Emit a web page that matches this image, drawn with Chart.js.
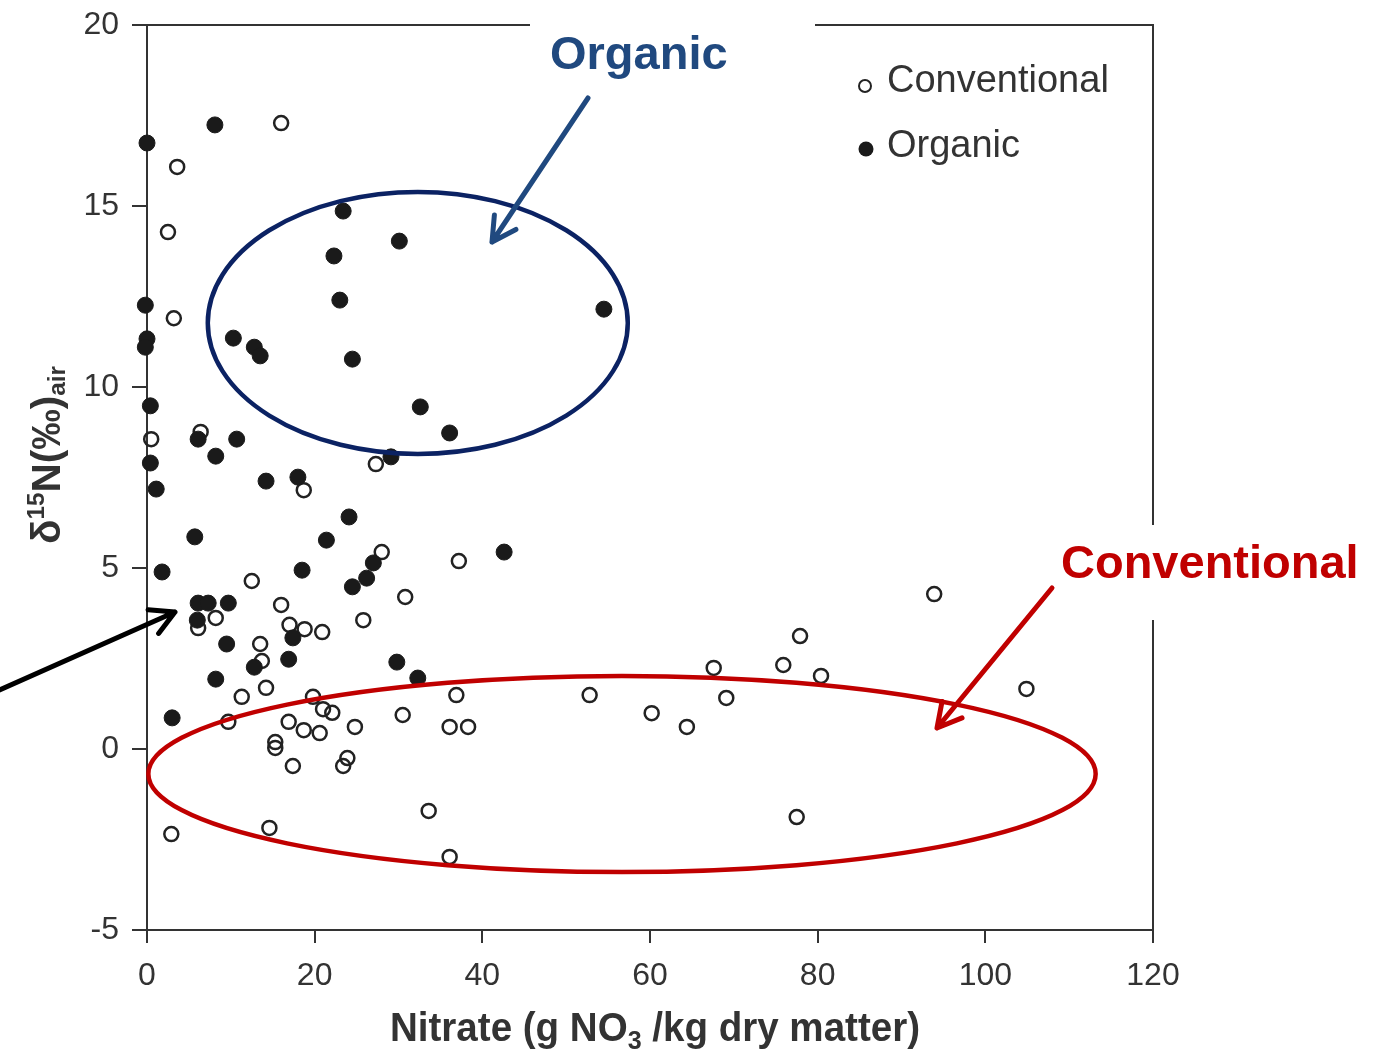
<!DOCTYPE html>
<html>
<head>
<meta charset="utf-8">
<script src="https://cdn.jsdelivr.net/npm/chart.js@4.4.1/dist/chart.umd.min.js"></script>
<style>
  html, body { margin: 0; padding: 0; background: #fff; }
  #wrap { width: 1379px; height: 1051px; }
</style>
</head>
<body>
<div id="wrap"><canvas id="chart" width="1379" height="1051"></canvas></div>
<script>
// Data (nitrate g/kg vs delta15N per mille)
const conventionalX = [16.0, 3.6, 2.5, 3.2, 0.5, 6.4, 27.3, 18.7, 28.0, 37.2, 12.5, 30.8, 16.0, 8.2, 6.1,
  25.8, 17.0, 18.8, 20.9, 13.5, 13.7, 14.2, 11.3, 19.8, 21.0, 22.1, 9.7, 16.9, 30.5, 18.7, 20.6, 24.8,
  15.3, 15.3, 17.4, 23.9, 23.4, 14.6, 2.9, 36.9, 36.1, 38.3, 33.6, 36.1, 52.8, 60.2, 64.4, 67.6, 69.1,
  75.9, 77.9, 80.4, 77.5, 93.9, 104.9];
const conventionalY = [17.29, 16.08, 14.28, 11.9, 8.56, 8.76, 7.87, 7.15, 5.44, 5.19, 4.64, 4.2, 3.98, 3.62, 3.34,
  3.56, 3.43, 3.31, 3.23, 2.9, 2.43, 1.69, 1.44, 1.44, 1.1, 1.0, 0.75, 0.75, 0.94, 0.52, 0.44, 0.61,
  0.19, 0.03, -0.47, -0.25, -0.47, -2.18, -2.35, 1.49, 0.61, 0.61, -1.71, -2.98, 1.49, 0.99, 0.61, 2.24, 1.41,
  2.32, 3.12, 2.02, -1.88, 4.28, 1.66];

const organicX = [0.0, 8.1, 23.4, 30.1, 22.3, 23.0, 54.5, -0.2, 0.0, -0.2, 10.3, 12.8, 13.5, 24.5, 32.6, 36.1,
  0.4, 0.4, 1.1, 6.1, 10.7, 8.2, 14.2, 18.0, 24.1, 21.4, 5.7, 1.8, 18.5, 27.0, 26.2, 24.5, 42.6, 29.1,
  6.1, 7.3, 9.7, 6.0, 17.4, 9.5, 16.9, 12.8, 29.8, 8.2, 3.0, 32.3];
const organicY = [16.74, 17.24, 14.86, 14.03, 13.62, 12.40, 12.15, 12.26, 11.33, 11.1, 11.35, 11.1, 10.86, 10.77, 9.45, 8.73,
  9.48, 7.9, 7.18, 8.56, 8.56, 8.09, 7.4, 7.51, 6.41, 5.77, 5.86, 4.89, 4.94, 5.14, 4.72, 4.48, 5.44, 8.07,
  4.03, 4.03, 4.03, 3.56, 3.07, 2.9, 2.48, 2.26, 2.4, 1.93, 0.86, 1.96];

const xTicks = [0, 20, 40, 60, 80, 100, 120];
const yTicks = [-5, 0, 5, 10, 15, 20];
const seriesNames = ['Conventional', 'Organic'];

const FONT = '"Liberation Sans", Arial, Helvetica, sans-serif';
const AXIS = '#333';

function toPoints(xs, ys) {
  return xs.map((x, i) => ({ x: x, y: ys[i] }));
}

// text with sub/superscript parts, centred on cx, optional squeeze to a width
function richText(ctx, parts, cx, baseY, color, targetW) {
  let w = 0;
  parts.forEach(p => {
    ctx.font = `bold ${p.size}px ${FONT}`;
    p.w = ctx.measureText(p.t).width;
    w += p.w;
  });
  const s = targetW ? targetW / w : 1;
  ctx.save();
  ctx.translate(cx, baseY);
  ctx.scale(s, 1);
  ctx.fillStyle = color;
  ctx.textAlign = 'left';
  ctx.textBaseline = 'alphabetic';
  let x = -w / 2;
  parts.forEach(p => {
    ctx.font = `bold ${p.size}px ${FONT}`;
    ctx.fillText(p.t, x, p.dy || 0);
    x += p.w;
  });
  ctx.restore();
}

function arrow(ctx, x1, y1, x2, y2, color, width) {
  const ang = Math.atan2(y1 - y2, x1 - x2);
  const head = 27, spread = 0.5;
  ctx.save();
  ctx.strokeStyle = color;
  ctx.lineWidth = width;
  ctx.lineCap = 'round';
  ctx.lineJoin = 'round';
  ctx.beginPath();
  ctx.moveTo(x1, y1);
  ctx.lineTo(x2, y2);
  ctx.moveTo(x2 + head * Math.cos(ang - spread), y2 + head * Math.sin(ang - spread));
  ctx.lineTo(x2, y2);
  ctx.lineTo(x2 + head * Math.cos(ang + spread), y2 + head * Math.sin(ang + spread));
  ctx.stroke();
  ctx.restore();
}

// frame, legend, callouts and axis titles
const decorations = {
  id: 'decorations',
  afterDatasetsDraw(chart) {
    const ctx = chart.ctx;
    const a = chart.chartArea;
    const xs = chart.scales.x, ys = chart.scales.y;

    // top and right border of the box
    ctx.save();
    ctx.strokeStyle = AXIS;
    ctx.lineWidth = 2;
    ctx.beginPath();
    ctx.moveTo(a.left, a.top);
    ctx.lineTo(a.right, a.top);
    ctx.lineTo(a.right, a.bottom);
    ctx.stroke();
    ctx.restore();

    // ellipses around the groups
    ctx.save();
    ctx.lineWidth = 4.5;
    ctx.strokeStyle = '#0b2263';
    ctx.beginPath();
    ctx.ellipse(xs.getPixelForValue(32.3), ys.getPixelForValue(11.77),
      xs.getPixelForValue(25.05) - xs.getPixelForValue(0),
      ys.getPixelForValue(0) - ys.getPixelForValue(3.62), 0, 0, Math.PI * 2);
    ctx.stroke();
    ctx.strokeStyle = '#c00000';
    ctx.beginPath();
    ctx.ellipse(xs.getPixelForValue(56.66), ys.getPixelForValue(-0.69),
      xs.getPixelForValue(56.5) - xs.getPixelForValue(0),
      ys.getPixelForValue(0) - ys.getPixelForValue(2.71), 0, 0, Math.PI * 2);
    ctx.stroke();
    ctx.restore();

    // white label boxes (they cut the frame)
    ctx.save();
    ctx.fillStyle = '#fff';
    ctx.fillRect(530, 0, 285, 100);
    ctx.fillRect(1045, 525, 334, 95);
    ctx.restore();

    ctx.save();
    ctx.font = `bold 47px ${FONT}`;
    ctx.textBaseline = 'middle';
    ctx.textAlign = 'left';
    ctx.fillStyle = '#20497f';
    ctx.fillText('Organic', 550, 56);
    ctx.fillStyle = '#c00000';
    ctx.fillText('Conventional', 1061, 565);
    ctx.restore();

    arrow(ctx, 588, 98, 492, 242, '#20497f', 5);
    arrow(ctx, 1052, 588, 937, 728, '#c00000', 5);
    arrow(ctx, -5, 692, 175, 612, '#000', 5);

    // legend
    ctx.save();
    ctx.lineWidth = 2;
    ctx.strokeStyle = '#222';
    ctx.beginPath();
    ctx.arc(865, 86, 6, 0, Math.PI * 2);
    ctx.stroke();
    ctx.fillStyle = '#1a1a1a';
    ctx.beginPath();
    ctx.arc(866, 149, 7.5, 0, Math.PI * 2);
    ctx.fill();
    ctx.font = `38px ${FONT}`;
    ctx.fillStyle = AXIS;
    ctx.textBaseline = 'middle';
    ctx.textAlign = 'left';
    ctx.fillText(seriesNames[0], 887, 82);
    ctx.fillText(seriesNames[1], 887, 147);
    ctx.restore();

    // x axis title
    richText(ctx, [
      { t: 'Nitrate (g NO', size: 40 },
      { t: '3', size: 26, dy: 8 },
      { t: ' /kg dry matter)', size: 40 }
    ], 655, 1041, AXIS, 530);

    // y axis title
    ctx.save();
    ctx.translate(60, 455);
    ctx.rotate(-Math.PI / 2);
    richText(ctx, [
      { t: '\u03b4', size: 40 },
      { t: '15', size: 24, dy: -16 },
      { t: 'N(\u2030)', size: 40 },
      { t: 'air', size: 24, dy: 5 }
    ], 0, 0, AXIS, 178);
    ctx.restore();
  }
};

new Chart(document.getElementById('chart'), {
  type: 'scatter',
  data: {
    datasets: [
      {
        label: seriesNames[1],
        data: toPoints(organicX, organicY),
        pointRadius: 8,
        pointBackgroundColor: '#1a1a1a',
        pointBorderColor: '#1a1a1a',
        pointBorderWidth: 1,
        order: 0,
        clip: false
      },
      {
        label: seriesNames[0],
        data: toPoints(conventionalX, conventionalY),
        pointRadius: 7,
        pointBackgroundColor: 'rgba(255,255,255,0)',
        pointBorderColor: '#222',
        pointBorderWidth: 2.5,
        order: 1,
        clip: false
      }
    ]
  },
  options: {
    responsive: false,
    animation: false,
    layout: { padding: { top: 25, right: 226, left: 0, bottom: 0 } },
    plugins: {
      legend: { display: false },
      tooltip: { enabled: false }
    },
    scales: {
      x: {
        type: 'linear',
        min: xTicks[0],
        max: xTicks[xTicks.length - 1],
        afterBuildTicks: (scale) => { scale.ticks = xTicks.map(v => ({ value: v })); },
        afterFit: (scale) => {
          scale.height = 121;
          scale.paddingLeft = 0;
          scale.paddingRight = 0;
        },
        grid: { drawOnChartArea: false, tickLength: 13, color: AXIS, lineWidth: 2 },
        border: { display: true, color: AXIS, width: 2 },
        ticks: { font: { family: FONT, size: 32 }, color: AXIS, padding: 14, maxRotation: 0 }
      },
      y: {
        type: 'linear',
        min: yTicks[0],
        max: yTicks[yTicks.length - 1],
        afterBuildTicks: (scale) => { scale.ticks = yTicks.map(v => ({ value: v })); },
        afterFit: (scale) => {
          scale.width = 147;
          scale.paddingTop = 0;
          scale.paddingBottom = 0;
        },
        grid: { drawOnChartArea: false, tickLength: 15, color: AXIS, lineWidth: 2 },
        border: { display: true, color: AXIS, width: 2 },
        ticks: { font: { family: FONT, size: 32 }, color: AXIS, padding: 13 }
      }
    }
  },
  plugins: [decorations]
});
</script>
</body>
</html>
